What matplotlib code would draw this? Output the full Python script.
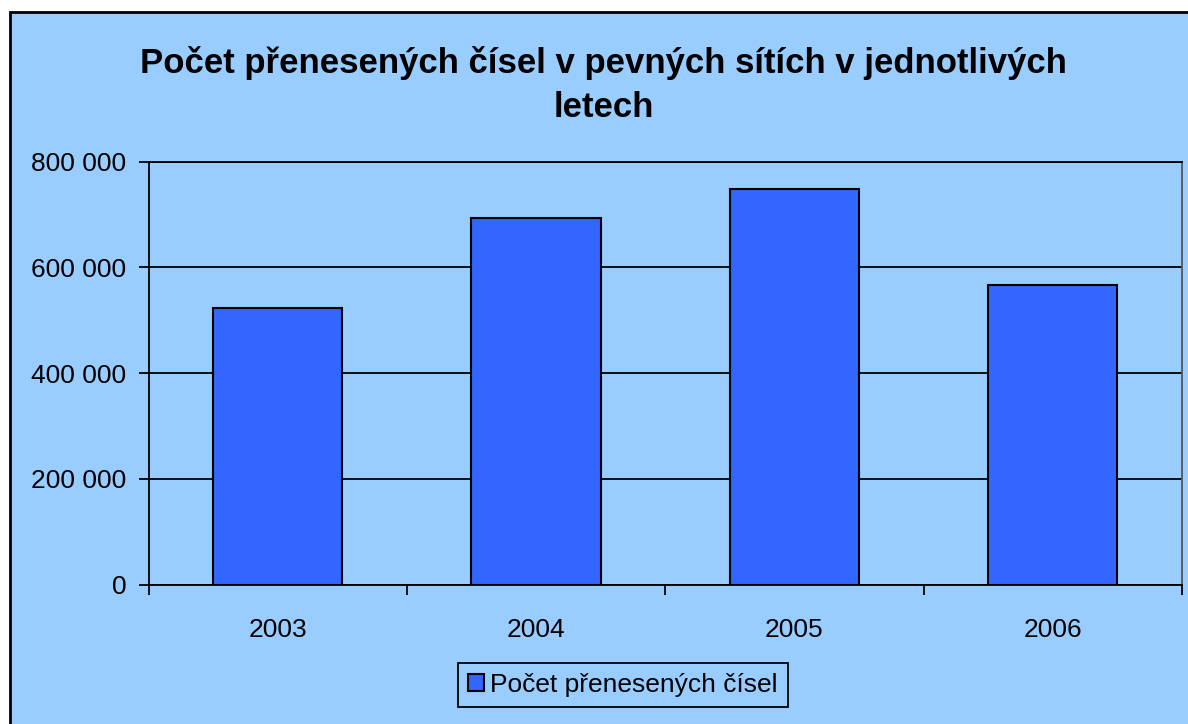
import matplotlib
matplotlib.use("Agg")
import matplotlib.pyplot as plt
import matplotlib.ticker as mticker
from matplotlib.patches import Rectangle
import numpy as np

YEARS = ["2003", "2004", "2005", "2006"]
TRANSFERS = [522600, 694000, 748300, 566700]
SERIES_LABEL = "Počet přenesených čísel"
TITLE = "Počet přenesených čísel v pevných sítích v jednotlivých\nletech"
Y_TICKS = [0, 200000, 400000, 600000, 800000]

BG = "#99CCFF"
BAR = "#3366FF"

plt.rcParams.update({
    "font.family": ["Liberation Sans", "DejaVu Sans"],
})


def fmt_thousands(v, _pos):
    return f"{int(v):,}".replace(",", " ")


def main() -> None:
    fig = plt.figure(figsize=(11.88, 7.24), dpi=100, facecolor="white")

    # chart frame (Excel-like chart area), runs off the right/bottom edge
    frame = Rectangle((10 / 1188, -0.05), 1.1, 1 - 12 / 724 + 0.05,
                      transform=fig.transFigure, facecolor=BG,
                      edgecolor="black", linewidth=2, zorder=-10)
    fig.patches.append(frame)

    ax = fig.add_axes([148.5 / 1188, 1 - 584.5 / 724,
                       (1182 - 148.5) / 1188, (584.5 - 161.7) / 724])
    ax.set_facecolor(BG)

    x = np.arange(len(YEARS))
    ax.bar(x, TRANSFERS, width=0.5, color=BAR, edgecolor="black",
           linewidth=1.5, zorder=3, label=SERIES_LABEL)

    ax.set_xlim(-0.5, len(YEARS) - 0.5)
    ax.set_ylim(0, 800000)
    ax.set_yticks(Y_TICKS)
    ax.yaxis.set_major_formatter(mticker.FuncFormatter(fmt_thousands))
    ax.grid(axis="y", color="black", linewidth=1.3, zorder=1)
    ax.set_axisbelow(True)

    # x ticks at category boundaries, labels at centres
    ax.set_xticks(np.arange(-0.5, len(YEARS), 1.0))
    ax.set_xticklabels([])
    ax.set_xticks(x, minor=True)
    ax.set_xticklabels(YEARS, minor=True)
    ax.tick_params(axis="x", which="major", direction="out", length=7,
                   width=1.3, color="black")
    ax.tick_params(axis="x", which="minor", length=0, pad=24, labelsize=19)
    ax.tick_params(axis="y", direction="out", length=7, width=1.3,
                   pad=9, labelsize=19)

    for side in ("left", "bottom", "top"):
        ax.spines[side].set_color("black")
        ax.spines[side].set_linewidth(1.3)
    ax.spines["right"].set_color("#555555")
    ax.spines["right"].set_linewidth(1.3)

    fig.text(0.508, 1 - 85 / 724, TITLE, ha="center", va="center",
             fontsize=25, fontweight="bold", linespacing=1.4)

    leg = ax.legend(loc="center", bbox_to_anchor=(623 / 1188, 1 - 685 / 724),
                    bbox_transform=fig.transFigure, fontsize=19,
                    frameon=True, fancybox=False, edgecolor="black",
                    facecolor=BG, framealpha=1, handlelength=0.6,
                    handleheight=0.6, handletextpad=0.25, borderpad=0.38)
    leg.get_frame().set_linewidth(1.3)

    fig.savefig("out.png", dpi=100, facecolor="white")
    plt.close(fig)


if __name__ == "__main__":
    main()
